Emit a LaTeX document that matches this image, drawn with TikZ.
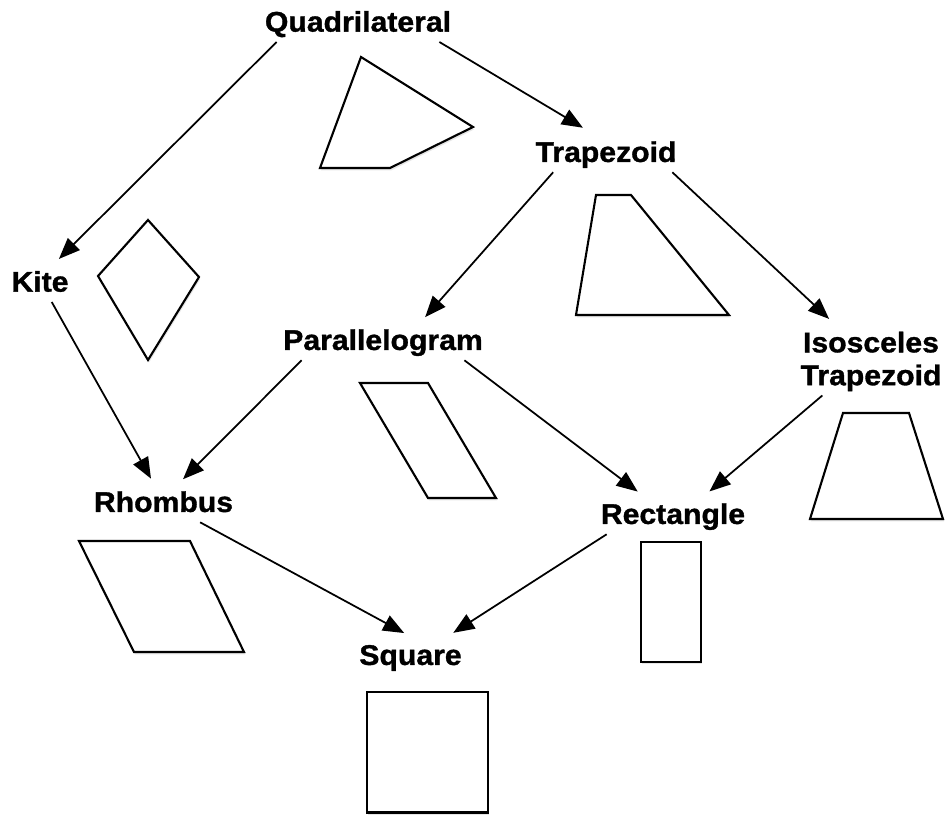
\documentclass[tikz,border=0pt]{standalone}
\usepackage{fontspec}
\setmainfont{Liberation Sans}[FakeStretch=1.06, BoldFeatures={FakeBold=1.2}]
\usetikzlibrary{arrows.meta,shadows}

\begin{document}
\begin{tikzpicture}[x=0.02cm,y=-0.02cm,
	lbl/.style={font=\fontsize{16.2}{18.7}\selectfont\bfseries,
		inner sep=2.3pt, text height=14.7pt, text depth=3.4pt},
	arr/.style={-{Triangle[length=12pt,width=9.5pt]}, line width=1pt, shorten >=2pt},
	shp/.style={draw, line width=1.2pt, fill=white,
		drop shadow={shadow xshift=0.6pt, shadow yshift=-1.4pt, opacity=0.2}}]
	
	\useasboundingbox (0,0) rectangle (947,816);
	
	% Labels
	\node[lbl] (quad) at (358,21.7) {Quadrilateral};
	\node[lbl] (trap) at (606,152) {Trapezoid};
	\node[lbl] (kite) at (40,281.7) {Kite};
	\node[lbl] (para) at (383,340) {Parallelogram};
	\node[lbl, align=center, text height=, text depth=] (iso) at (871,361.4) {Isosceles\\Trapezoid};
	\node[lbl] (rhom) at (163.5,502) {Rhombus};
	\node[lbl] (rect) at (673,514) {Rectangle};
	\node[lbl] (sqr) at (410.5,655) {Square};
	
	% Arrows
	\draw[arr] (quad.194.8) -- (kite.51);
	\draw[arr, shorten >=4.4pt] (quad.346) -- (trap.129.2);
	\draw[arr] (trap.201.4) -- (para.27.6);
	\draw[arr, shorten >=7pt] (trap.343.1) -- (iso.134.1);
	\draw[arr] (kite.300.5) -- (rhom.118.4);
	\draw[arr] (para.194.4) -- (rhom.50.6);
	\draw[arr] (para.346) -- (rect.148.2);
	\draw[arr] (iso.215.8) -- (rect.31.5);
	\draw[arr] (rhom.331.6) -- (sqr.99.6);
	\draw[arr] (rect.197.3) -- (sqr.27.4);
	
	% Shapes
	\draw[shp] (361,57) -- (473,127) -- (390,168) -- (320,168) -- cycle;
	\draw[shp] (148,220) -- (199,277) -- (148,360) -- (98,276) -- cycle;
	\draw[shp] (596,195) -- (631,195) -- (729,315) -- (576,315) -- cycle;
	\draw[shp] (843,413) -- (909,413) -- (943,519) -- (810,519) -- cycle;
	\draw[shp] (79,541) -- (190,541) -- (244,652) -- (134,652) -- cycle;
	\draw[shp] (360,383) -- (428,383) -- (496,498) -- (428,498) -- cycle;
	\draw[shp] (367,692) rectangle (488,812.5);
	\draw[shp] (641,542) rectangle (701,662);
	
\end{tikzpicture}
\end{document}
